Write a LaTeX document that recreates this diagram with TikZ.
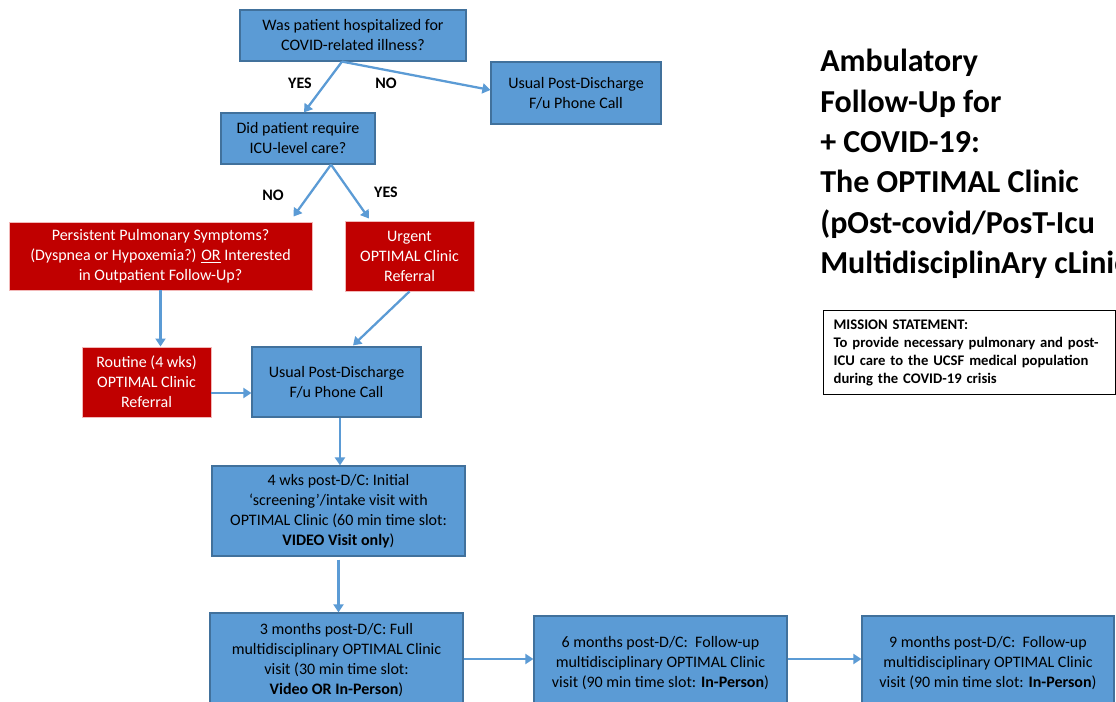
\documentclass[tikz,border=0pt]{standalone}
\usepackage{fontspec}
\setmainfont{Carlito}
\usetikzlibrary{arrows.meta}
\definecolor{boxblue}{HTML}{5B9BD5}
\definecolor{boxblueline}{HTML}{41719C}
\definecolor{boxred}{HTML}{C00000}
\definecolor{boxredline}{HTML}{F2B8B8}
\definecolor{arrowblue}{HTML}{5B9BD5}
\begin{document}
\begin{tikzpicture}[x=0.75pt,y=-0.75pt,
  box/.style={rectangle, inner sep=0pt, align=center, font=\fontsize{12}{15}\selectfont},
  bluebox/.style={box, fill=boxblue, draw=boxblueline, line width=0.9pt, text=black},
  redbox/.style={box, fill=boxred, draw=boxredline, line width=0.7pt, text=white},
  conn/.style={draw=arrowblue, line width=1.7pt, -{Triangle[length=6pt,width=7.5pt]}},
  lbl/.style={font=\fontsize{12}{14}\selectfont\bfseries, inner sep=0pt}]
\useasboundingbox (0,0) rectangle (1116,702);
\fill[white] (0,0) rectangle (1116,702);
\begin{scope}
\clip (0,0) rectangle (1116,702);

% nodes
\node[bluebox, minimum width=169.5pt, minimum height=38.25pt] (q1) at (353,35.5)
  {Was patient hospitalized for\\COVID-related illness?};
\node[bluebox, minimum width=127.5pt, minimum height=46.5pt] (nohosp) at (576,93)
  {Usual Post-Discharge\\F/u Phone Call};
\node[bluebox, minimum width=115.5pt, minimum height=38.25pt] (icu) at (298,138.5)
  {Did patient require\\ICU-level care?};
\node[redbox, minimum width=227.25pt, minimum height=51pt] (pers) at (160.5,256)
  {Persistent Pulmonary Symptoms?\\(Dyspnea or Hypoxemia?) \underline{OR} Interested\\in Outpatient Follow-Up?};
\node[redbox, minimum width=96.75pt, minimum height=52.5pt] (urgent) at (409.5,256)
  {Urgent\\OPTIMAL Clinic\\Referral};
\node[redbox, minimum width=96.75pt, minimum height=52.5pt] (routine) at (146.5,382)
  {Routine (4 wks)\\OPTIMAL Clinic\\Referral};
\node[bluebox, minimum width=126.75pt, minimum height=52.5pt] (usual) at (336.5,382)
  {Usual Post-Discharge\\F/u Phone Call};
\node[bluebox, minimum width=189.75pt, minimum height=67.5pt] (wk4) at (338.5,511)
  {4 wks post-D/C: Initial\\‘screening’/intake visit with\\OPTIMAL Clinic (60 min time slot:\\\textbf{VIDEO Visit only})};
\node[bluebox, minimum width=189.75pt, minimum height=70.5pt] (m3) at (336.5,660)
  {3 months post-D/C: Full\\multidisciplinary OPTIMAL Clinic\\visit (30 min time slot:\\\textbf{Video OR In-Person})};
\node[bluebox, minimum width=189.75pt, minimum height=70.5pt] (m6) at (660.5,663)
  {6 months post-D/C:\ \ Follow-up\\multidisciplinary OPTIMAL Clinic\\visit (90 min time slot: \textbf{In-Person})};
\node[bluebox, minimum width=189pt, minimum height=70.5pt] (m9) at (988,663)
  {9 months post-D/C:\ \ Follow-up\\multidisciplinary OPTIMAL Clinic\\visit (90 min time slot: \textbf{In-Person})};

% title
\node[anchor=north west, inner sep=0pt, align=left,
  font=\fontsize{24}{30.3}\selectfont\bfseries] (title) at (820,49)
  {Ambulatory\\Follow-Up for\\+ COVID-19:\\The OPTIMAL Clinic\\(pOst-covid/PosT-Icu\\MultidisciplinAry cLinic)};

% mission statement
\node[draw=black, line width=1pt, anchor=north west, minimum width=219pt, minimum height=63pt,
  inner xsep=7.5pt, inner ysep=0pt, text width=204pt, align=left,
  font=\fontsize{11}{13.5}\selectfont\bfseries] (mission) at (823,310)
  {MISSION STATEMENT:\\To provide necessary pulmonary and post-\\ICU care to the UCSF medical population\\during the COVID-19 crisis};

% labels
\node[lbl] (yes1) at (300,83) {YES};
\node[lbl] (no1) at (386,83) {NO};
\node[lbl] (no2) at (273,195) {NO};
\node[lbl] (yes2) at (386,192) {YES};

% connectors
\draw[conn] ([xshift=-8.25pt]q1.south) -- ([xshift=4.5pt]icu.north);
\draw[conn] ([xshift=-8.25pt]q1.south) -- ([yshift=2.25pt]nohosp.west);
\draw[conn] ([xshift=24.75pt]icu.south) -- ([xshift=-14.25pt,yshift=3.75pt]pers.north east);
\draw[conn] ([xshift=24.75pt]icu.south) -- ([xshift=-30.4pt,yshift=1.5pt]urgent.north);
\draw[conn] (pers.south) -- (pers.south |- routine.north);
\draw[conn] (urgent.south) -- ([xshift=12.4pt,yshift=0.75pt]usual.north);
\draw[conn] ([yshift=-8.25pt]routine.east) -- ([yshift=-8.25pt]routine.east -| usual.west);
\draw[conn] ([xshift=2.6pt]usual.south) -- ([xshift=2.6pt]usual.south |- wk4.north);
\draw[conn] ([yshift=-2.25pt]wk4.south) -- (wk4.south |- m3.north);
\draw[conn] ([yshift=0.75pt]m3.east) -- ([yshift=0.75pt]m3.east -| m6.west);
\draw[conn] ([yshift=3pt]m6.east) -- ([yshift=3pt]m6.east -| m9.west);
\end{scope}
\end{tikzpicture}
\end{document}
